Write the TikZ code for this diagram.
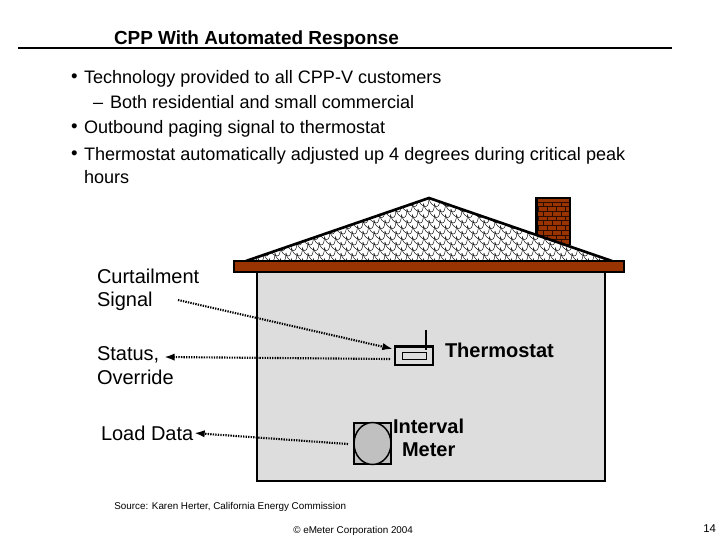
\documentclass[tikz,border=0pt]{standalone}
\usepackage{fontspec}
\setmainfont{Liberation Sans}
\usetikzlibrary{arrows.meta}
\definecolor{roofbrown}{HTML}{993300}
\definecolor{mortar}{HTML}{2A0C00}
\definecolor{wallgray}{HTML}{DDDDDD}
\definecolor{metergray}{HTML}{C0C0C0}
\tikzset{
  txt/.style={anchor=base west,inner sep=0pt,outer sep=0pt,font=\fontsize{13.55}{16}\selectfont,text=black},
  lbl/.style={anchor=base west,inner sep=0pt,outer sep=0pt,font=\fontsize{15}{18}\selectfont,text=black},
  boldlbl/.style={lbl,font=\fontsize{15}{18}\selectfont\bfseries},
  titletxt/.style={lbl,font=\fontsize{14.2}{17}\selectfont\bfseries},
  small/.style={anchor=base west,inner sep=0pt,font=\fontsize{7.4}{9}\selectfont},
  dot/.style={anchor=base west,inner sep=0pt,outer sep=0pt,font=\fontsize{14}{16}\selectfont},
  outl/.style={draw=black,line width=1.8pt},
  signal/.style={line width=1.6pt,dash pattern=on 1pt off 0.9pt,-{Latex[length=8pt,width=5.5pt]}},
  blob/.style={inner sep=0pt,outer sep=0pt}
}
\begin{document}
\begin{tikzpicture}[x=0.75pt,y=-0.75pt]
\useasboundingbox (0,0) rectangle (720,540);
\fill[white] (0,0) rectangle (720,540);
% header
\node[titletxt] (title) at (114,44) {CPP With Automated Response};
\draw[line width=1.5pt] (18,48) -- (672,48);
% bullets
\node[dot] (b1d) at (71,82.5) {•};
\node[txt] (b1) at (84,83) {Technology provided to all CPP-V customers};
\node[txt] (b2d) at (93,108) {–};
\node[txt] (b2) at (110,108) {Both residential and small commercial};
\node[dot] (b3d) at (71,132.5) {•};
\node[txt] (b3) at (84,133) {Outbound paging signal to thermostat};
\node[dot] (b4d) at (71,159.5) {•};
\node[txt] (b4) at (84,160) {Thermostat automatically adjusted up 4 degrees during critical peak};
\node[txt] (b5) at (84,183) {hours};
% chimney
\fill[roofbrown] (536.5,198) rectangle (570,245);
\begin{scope}
\clip (537.5,199) rectangle (569,245);
\foreach \r in {0,...,9} {
  \draw[mortar,line width=0.5pt] (536,{202+\r*4.7}) -- (570,{202+\r*4.7});
  \foreach \c in {0,...,4} {
    \pgfmathsetmacro{\xx}{534+\c*9+mod(\r,2)*4.5}
    \draw[mortar,line width=0.5pt] (\xx,{202+\r*4.7}) -- (\xx,{206.7+\r*4.7});
  }
}
\end{scope}
\draw[line width=1.8pt] (536.5,245) -- (536.5,198) -- (570,198) -- (570,245);
% roof
\fill[white] (429,198) -- (246,261) -- (612,261) -- cycle;
\begin{scope}
\clip (429,198) -- (246,261) -- (612,261) -- cycle;
\foreach \r in {0,...,11} {
  \foreach \c in {-18,...,18} {
    \pgfmathsetmacro{\xx}{429+\c*11+mod(\r,2)*5.5}
    \pgfmathsetmacro{\yy}{198+\r*5.5}
    \draw[black,line width=0.33pt] (\xx,\yy) .. controls (\xx+0.5,\yy+4) and (\xx+3,\yy+8) .. (\xx+8,\yy+8.5) .. controls (\xx+10,\yy+8.5) and (\xx+11,\yy+4) .. (\xx+11,\yy);
  }
}
\end{scope}
\draw[line width=2pt,line cap=round] (246,261) -- (429,198) -- (612,261);
% house
\draw[outl,fill=wallgray] (257,272) rectangle (605,481);
\draw[outl,fill=roofbrown] (234,261) rectangle (624,272);
% labels
\node[lbl] (curt1) at (97,283) {Curtailment};
\node[lbl] (curt2) at (97,306) {Signal};
\node[lbl] (stat1) at (97,360) {Status,};
\node[lbl] (stat2) at (97,384) {Override};
\node[lbl] (load) at (101,440) {Load Data};
\node[boldlbl] (therm) at (445,357) {Thermostat};
\node[boldlbl] (int1) at (393,433) {Interval};
\node[boldlbl] (int2) at (402,456) {Meter};
% thermostat
\node[blob,draw=black,line width=2pt,minimum width=28.5pt,minimum height=14pt] (tbox) at (414,355.5) {};
\node[blob,draw=black,line width=0.6pt,minimum width=18pt,minimum height=5.2pt] (tscreen) at (414,355.5) {};
\coordinate (anttop) at (426,330);
\coordinate (antbot) at (426,350);
\draw[line width=0.9pt] (anttop) -- (antbot);
% meter
\node[blob,draw=black,fill=metergray,line width=1.8pt,minimum width=27.5pt,minimum height=30.5pt] (mbox) at (372.5,443.5) {};
\draw[line width=1.1pt,fill=metergray] (mbox.center) ellipse (18.5 and 21);
% connectors
\coordinate (cstart) at (178,300);
\coordinate (ctip) at (393,349);
\coordinate (sstart) at (390,359);
\coordinate (stip) at (164,357);
\coordinate (lstart) at (348,444);
\coordinate (ltip) at (194,433);
\draw[signal] (cstart) -- (ctip);
\draw[signal] (sstart) -- (stip);
\draw[signal] (lstart) -- (ltip);
% footer
\node[small] (src) at (114,509) {Source: Karen Herter, California Energy Commission};
\node[small] (copy) at (293,533) {© eMeter Corporation 2004};
\node[anchor=base west,inner sep=0pt,font=\fontsize{8.5}{10}\selectfont] (pg) at (703,532) {14};
\end{tikzpicture}
\end{document}
